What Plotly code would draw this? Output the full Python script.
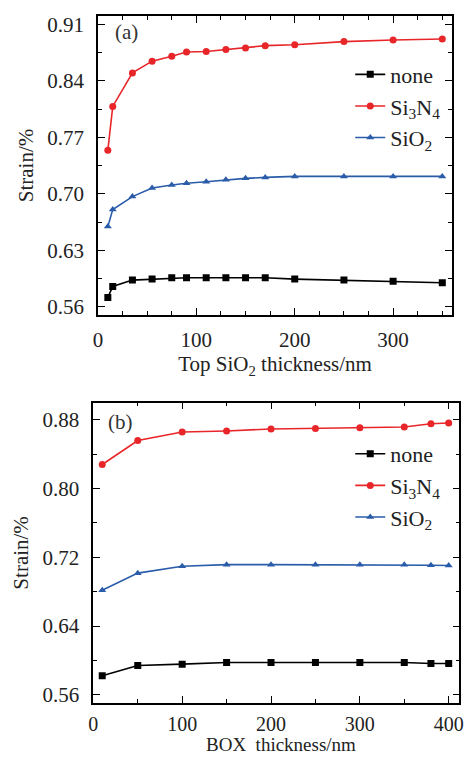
import plotly.graph_objects as go

# ---- data: panel (a) ----
top_x = [10, 15, 35, 55, 75, 90, 110, 130, 150, 170, 200, 250, 300, 350]
top_none = [0.5716, 0.5854, 0.5932, 0.5944, 0.5961, 0.5961, 0.5961, 0.5961, 0.5961, 0.5961, 0.5944, 0.5932, 0.5919, 0.5899]
top_si3n4 = [0.754, 0.8085, 0.850, 0.8646, 0.8707, 0.876, 0.8765, 0.879, 0.881, 0.8838, 0.885, 0.8888, 0.8908, 0.892]
top_sio2 = [0.6595, 0.6807, 0.6967, 0.7074, 0.7110, 0.7133, 0.7151, 0.7176, 0.7193, 0.7205, 0.7217, 0.7217, 0.7217, 0.7217]

# ---- data: panel (b) ----
box_x = [10, 50, 100, 150, 200, 250, 300, 350, 380, 400]
box_none = [0.5822, 0.5941, 0.5957, 0.5976, 0.5976, 0.5976, 0.5976, 0.5976, 0.5964, 0.5964]
box_si3n4 = [0.828, 0.8558, 0.8658, 0.8670, 0.8693, 0.8700, 0.8708, 0.8716, 0.8754, 0.8762]
box_sio2 = [0.6816, 0.7016, 0.7096, 0.7115, 0.7115, 0.7115, 0.7115, 0.7115, 0.7108, 0.7104]

top_yticks = [0.56, 0.63, 0.70, 0.77, 0.84, 0.91]
box_yticks = [0.56, 0.64, 0.72, 0.80, 0.88]

names = ["none", "Si<sub>3</sub>N<sub>4</sub>", "SiO<sub>2</sub>"]
colors = ["#000000", "#e8262a", "#2a5caa"]
symbols = ["square", "circle", "triangle-up"]

FONT = "Liberation Serif"
TXT = "#222222"
W, H = 465, 760

fig = go.Figure()

for ys, nm, c, s in zip([top_none, top_si3n4, top_sio2], names, colors, symbols):
    fig.add_trace(go.Scatter(x=top_x, y=ys, name=nm, mode="lines+markers",
                             line=dict(color=c, width=1.6),
                             marker=dict(symbol=s, size=7, color=c),
                             xaxis="x", yaxis="y", legend="legend"))
for ys, nm, c, s in zip([box_none, box_si3n4, box_sio2], names, colors, symbols):
    fig.add_trace(go.Scatter(x=box_x, y=ys, name=nm, mode="lines+markers",
                             line=dict(color=c, width=1.6),
                             marker=dict(symbol=s, size=7, color=c),
                             xaxis="x2", yaxis="y2", legend="legend2"))

def title(text, standoff):
    return dict(text=text, standoff=standoff, font=dict(family=FONT, size=21, color=TXT))

def ax(**kw):
    d = dict(showline=True, linecolor="black", linewidth=1.6, mirror="allticks",
             ticks="inside", ticklen=7, tickwidth=1.3, tickcolor="black",
             showgrid=False, zeroline=False,
             tickfont=dict(family=FONT, size=21, color=TXT))
    d.update(kw)
    return d

fig.update_layout(
    width=W, height=H, margin=dict(l=0, r=0, t=0, b=0),
    paper_bgcolor="white", plot_bgcolor="white",
    font=dict(family=FONT, size=21, color=TXT),
    xaxis=ax(domain=[94 / W, 452 / W], range=[0, 360], tickvals=[0, 100, 200, 300],
             minor=dict(dtick=25, tick0=0, ticks="inside", ticklen=4, tickcolor="black"),
             anchor="y", title=title("Top SiO<sub>2</sub> thickness/nm", 0),
             ticklabelstandoff=5),
    yaxis=ax(domain=[1 - 315 / H, 1 - 13 / H], range=[0.5498, 0.9207],
             tickvals=top_yticks, ticktext=[f"{v:.2f}" for v in top_yticks],
             minor=dict(dtick=0.035, tick0=0.56, ticks="inside", ticklen=4, tickcolor="black"),
             anchor="x", title=title("Strain/%", 8), ticklabelstandoff=8),
    xaxis2=ax(domain=[89.3 / W, 459.3 / W], range=[0, 412], tickvals=[0, 100, 200, 300, 400],
              minor=dict(dtick=50, tick0=0, ticks="inside", ticklen=4, tickcolor="black"),
              anchor="y2", ticklabelstandoff=2, automargin=False,
              tickfont=dict(family=FONT, size=20, color=TXT)),
    yaxis2=ax(domain=[1 - 706.7 / H, 1 - 403.3 / H], range=[0.5503, 0.900],
              tickvals=box_yticks, ticktext=[f"{v:.2f}" for v in box_yticks],
              minor=dict(dtick=0.04, tick0=0.56, ticks="inside", ticklen=4, tickcolor="black"),
              anchor="x2", title=title("Strain/%", 8), ticklabelstandoff=8),
    legend=dict(x=349 / W, y=1 - 51 / H, xanchor="left", yanchor="top",
                bgcolor="rgba(0,0,0,0)", font=dict(family=FONT, size=22, color=TXT),
                itemwidth=30, tracegroupgap=0),
    legend2=dict(x=349 / W, y=1 - 434 / H, xanchor="left", yanchor="top",
                 bgcolor="rgba(0,0,0,0)", font=dict(family=FONT, size=22, color=TXT),
                 itemwidth=30, tracegroupgap=0),
    annotations=[
        dict(text="(a)", x=0.043, y=0.945, xref="x domain", yref="y domain",
             showarrow=False, xanchor="left", yanchor="middle",
             font=dict(family=FONT, size=21, color="#333")),
        dict(text="(b)", x=0.035, y=0.935, xref="x2 domain", yref="y2 domain",
             showarrow=False, xanchor="left", yanchor="middle",
             font=dict(family=FONT, size=21, color="#333")),
        dict(text="BOX  thickness/nm", x=279.5 / W, y=0, xref="paper", yref="paper",
             showarrow=False, xanchor="center", yanchor="bottom", borderpad=0,
             font=dict(family=FONT, size=19, color=TXT)),
    ],
)

fig.write_html("out.html")
